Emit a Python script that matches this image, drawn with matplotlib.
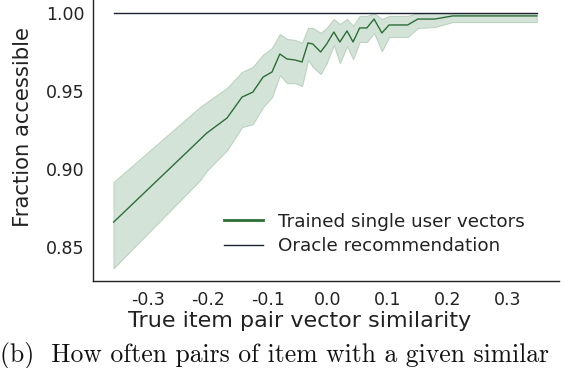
import matplotlib
matplotlib.use("Agg")
import matplotlib.pyplot as plt

plt.rcParams['axes.unicode_minus'] = False
plt.rcParams['font.family'] = ['DejaVu Sans']

# similarity bins (x) and fraction accessible: mean, upper and lower band
similarity = [-0.357, -0.213, -0.202, -0.168, -0.143, -0.125, -0.108, -0.093,
              -0.080, -0.068, -0.055, -0.043, -0.033, -0.025, -0.012, -0.002,
              0.010, 0.020, 0.032, 0.042, 0.053, 0.065, 0.077, 0.090, 0.102,
              0.133, 0.150, 0.178, 0.208, 0.348]
trained = [0.8662, 0.9191, 0.9232, 0.9329, 0.9463, 0.9495, 0.9591, 0.9624,
           0.9739, 0.9707, 0.9701, 0.9688, 0.9810, 0.9803, 0.9752, 0.9803,
           0.9880, 0.9816, 0.9887, 0.9816, 0.9906, 0.9906, 0.9963, 0.9874,
           0.9925, 0.9925, 0.9963, 0.9963, 0.9983, 0.9983]
upper = [0.8919, 0.9399, 0.9430, 0.9521, 0.9624, 0.9656, 0.9735, 0.9778,
         0.9867, 0.9835, 0.9829, 0.9810, 0.9906, 0.9906, 0.9874, 0.9906,
         0.9963, 0.9931, 0.9963, 0.9919, 0.9983, 0.9983, 1.0, 0.9963,
         0.9983, 0.9983, 1.0, 1.0, 1.0, 1.0]
lower = [0.8367, 0.8930, 0.8990, 0.9123, 0.9271, 0.9290, 0.9399, 0.9463,
         0.9604, 0.9553, 0.9553, 0.9534, 0.9701, 0.9656, 0.9611, 0.9681,
         0.9797, 0.9681, 0.9790, 0.9707, 0.9816, 0.9816, 0.9874, 0.9758,
         0.9848, 0.9848, 0.9906, 0.9912, 0.9944, 0.9944]
oracle = 1.0

xticks = [-0.3, -0.2, -0.1, 0.0, 0.1, 0.2, 0.3]
yticks = [0.85, 0.90, 0.95, 1.00]

fig = plt.figure(figsize=(5.68, 3.68), dpi=100)
ax = fig.add_axes([0.163, 0.236, 0.821, 0.764])

ax.fill_between(similarity, lower, upper, color='#d4e3d8', edgecolor='#bcd3c1', linewidth=0.8)
ax.plot(similarity, trained, color='#2b6e36', linewidth=1.0, label='Trained single user vectors')
ax.plot([similarity[0], similarity[-1]], [oracle, oracle], color='#1c2230', linewidth=1.0,
        label='Oracle recommendation')

ax.set_xlim(-0.392, 0.385)
ax.set_ylim(0.8284, 1.0085)
ax.set_xticks(xticks)
ax.set_xticklabels([f"{t:.1f}" for t in xticks])
ax.set_yticks(yticks)
ax.set_yticklabels([f"{t:.2f}" for t in yticks])
ax.tick_params(length=0, labelsize=12.5, colors='#222222')
ax.tick_params(axis='y', pad=6)
ax.tick_params(axis='x', pad=7)

for s in ['top', 'right']:
    ax.spines[s].set_visible(False)
for s in ['left', 'bottom']:
    ax.spines[s].set_color('#222222')
    ax.spines[s].set_linewidth(1.0)

ax.set_xlabel("True item pair vector similarity", fontsize=16, color='#222222')
ax.xaxis.set_label_coords(0.4445, -0.105)
ax.set_ylabel("Fraction accessible", fontsize=15.2, color='#222222')
ax.yaxis.set_label_coords(-0.128, 0.548)

leg = ax.legend(loc='lower left', frameon=False, fontsize=13.2, handlelength=2.1,
                handletextpad=0.8, labelspacing=0.35, borderpad=0.0,
                bbox_to_anchor=(0.263, 0.060))
leg.get_lines()[0].set_linewidth(2.0)
for t in leg.get_texts():
    t.set_color('#222222')

# caption (cut at the right edge in the source)
fig.text(0.0, 0.0163, "(b)  How often pairs of item with a given similar",
         fontsize=18.5, family='cmr10', color='#111111', ha='left', va='baseline')

fig.savefig("out.png", dpi=100)
